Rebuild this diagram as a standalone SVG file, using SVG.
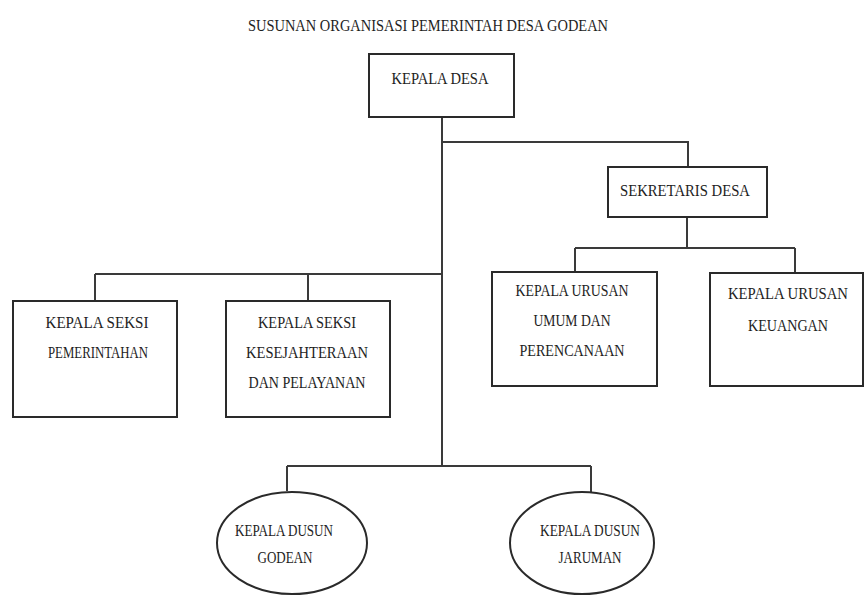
<svg xmlns="http://www.w3.org/2000/svg" width="865" height="595" viewBox="0 0 865 595">
<style>
.box{fill:#fff;stroke:#2a2a2a;stroke-width:2}
.ln{fill:none;stroke:#3a3a3a;stroke-width:2}
text{font-family:"Liberation Serif","DejaVu Serif",serif;font-size:16.5px;fill:#1e1e1e;text-anchor:middle}
</style>
<rect width="865" height="595" fill="#fff"/>
<text id="title" x="428" y="31" textLength="360" lengthAdjust="spacingAndGlyphs">SUSUNAN ORGANISASI PEMERINTAH DESA GODEAN</text>
<g id="connectors">
<path class="ln" d="M442 117 V466"/>
<path class="ln" d="M442 142 H688 V167"/>
<path class="ln" d="M687 217 V248 M575 248 H795 M575 248 V272 M795 248 V273"/>
<path class="ln" d="M95 274 H442 M95 274 V301 M308 274 V301"/>
<path class="ln" d="M287 466 H591 M287 466 V491 M591 466 V492"/>
</g>
<g id="kepala-desa">
<rect class="box" x="369" y="54" width="145" height="63"/>
<text x="440" y="84" textLength="97" lengthAdjust="spacingAndGlyphs">KEPALA DESA</text>
</g>
<g id="sekretaris-desa">
<rect class="box" x="608" y="167" width="159" height="50"/>
<text x="685" y="196" textLength="130" lengthAdjust="spacingAndGlyphs">SEKRETARIS DESA</text>
</g>
<g id="kasi-pemerintahan">
<rect class="box" x="13" y="301" width="164" height="116"/>
<text x="97" y="328" textLength="103" lengthAdjust="spacingAndGlyphs">KEPALA SEKSI</text>
<text x="98" y="358" textLength="100" lengthAdjust="spacingAndGlyphs">PEMERINTAHAN</text>
</g>
<g id="kasi-kesejahteraan">
<rect class="box" x="226" y="301" width="164" height="116"/>
<text x="307" y="328" textLength="98" lengthAdjust="spacingAndGlyphs">KEPALA SEKSI</text>
<text x="307" y="358" textLength="122" lengthAdjust="spacingAndGlyphs">KESEJAHTERAAN</text>
<text x="307" y="388" textLength="117" lengthAdjust="spacingAndGlyphs">DAN PELAYANAN</text>
</g>
<g id="kaur-umum">
<rect class="box" x="492" y="272" width="165" height="114"/>
<text x="572" y="296" textLength="113" lengthAdjust="spacingAndGlyphs">KEPALA URUSAN</text>
<text x="572" y="326" textLength="77" lengthAdjust="spacingAndGlyphs">UMUM DAN</text>
<text x="572" y="356" textLength="105" lengthAdjust="spacingAndGlyphs">PERENCANAAN</text>
</g>
<g id="kaur-keuangan">
<rect class="box" x="710" y="273" width="153" height="113"/>
<text x="788" y="299" textLength="120" lengthAdjust="spacingAndGlyphs">KEPALA URUSAN</text>
<text x="788" y="331" textLength="80" lengthAdjust="spacingAndGlyphs">KEUANGAN</text>
</g>
<g id="dusun-godean">
<ellipse class="box" cx="292" cy="543" rx="75" ry="51"/>
<text x="284" y="536" textLength="98" lengthAdjust="spacingAndGlyphs">KEPALA DUSUN</text>
<text x="285" y="563" textLength="55" lengthAdjust="spacingAndGlyphs">GODEAN</text>
</g>
<g id="dusun-jaruman">
<ellipse class="box" cx="582" cy="543" rx="72" ry="51"/>
<text x="590" y="536" textLength="100" lengthAdjust="spacingAndGlyphs">KEPALA DUSUN</text>
<text x="590" y="563" textLength="63" lengthAdjust="spacingAndGlyphs">JARUMAN</text>
</g>
</svg>
